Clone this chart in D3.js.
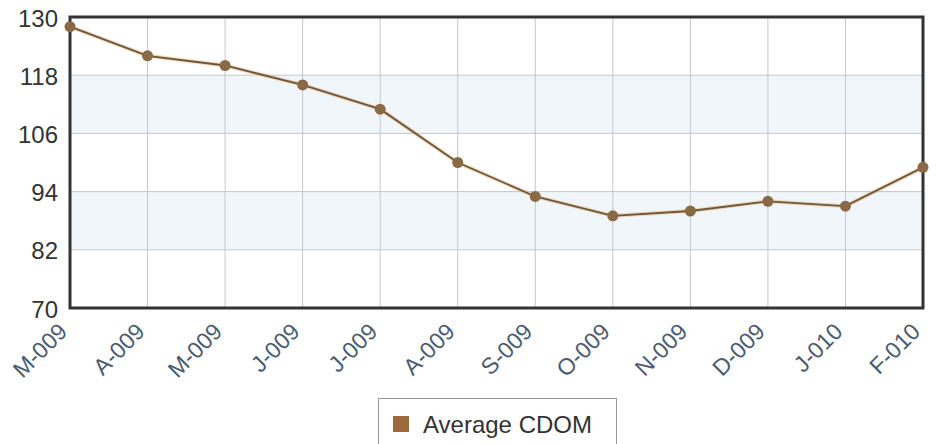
<!DOCTYPE html>
<html><head><meta charset="utf-8">
<script src="https://cdn.jsdelivr.net/npm/d3@7"></script>
<style>body{margin:0;background:#fff;}svg{display:block;}</style>
</head><body>
<svg id="c" width="938" height="444"></svg>
<script>
const categories = ["M-009","A-009","M-009","J-009","J-009","A-009","S-009","O-009","N-009","D-009","J-010","F-010"];
const values = [128,122,120,116,111,100,93,89,90,92,91,99];
const yTicks = [70,82,94,106,118,130];
const seriesName = "Average CDOM";

const svg = d3.select("#c");
const L=70,R=923,T=17,B=308;
const FONT = "Arial, 'Liberation Sans', sans-serif";
const x = d3.scalePoint().domain(d3.range(categories.length)).range([L,R]);
const y = d3.scaleLinear().domain([70,130]).range([B,T]);

// bands
for (let i=0;i<yTicks.length-1;i++){
  if (i===1||i===3){
    svg.append("rect").attr("x",L).attr("width",R-L)
      .attr("y",y(yTicks[i+1])).attr("height",y(yTicks[i])-y(yTicks[i+1]))
      .attr("fill","#f1f6fb");
  }
}
// grid
svg.append("g").selectAll("line").data(yTicks).join("line")
  .attr("x1",L).attr("x2",R).attr("y1",d=>y(d)).attr("y2",d=>y(d))
  .attr("stroke","#c4c8cc").attr("stroke-width",1);
svg.append("g").selectAll("line").data(d3.range(categories.length)).join("line")
  .attr("x1",d=>x(d)).attr("x2",d=>x(d)).attr("y1",T).attr("y2",B)
  .attr("stroke","#c4c8cc").attr("stroke-width",1);

// frame
svg.append("rect").attr("x",L).attr("y",T).attr("width",R-L).attr("height",B-T)
  .attr("fill","none").attr("stroke","#333").attr("stroke-width",3);

// y axis labels
const yAxis = d3.axisLeft(y).tickValues(yTicks).tickSize(0).tickPadding(12);
const gy = svg.append("g").attr("transform",`translate(${L},0)`).call(yAxis);
gy.select(".domain").remove();
gy.selectAll("text").attr("font-family",FONT)
  .attr("font-size",24).attr("fill","#333").attr("dy","0.38em");

// x axis labels
const xAxis = d3.axisBottom(x).tickFormat(i=>categories[i]).tickSize(0).tickPadding(0);
const gx = svg.append("g").attr("transform",`translate(0,${B})`).call(xAxis);
gx.select(".domain").remove();
gx.selectAll("text").attr("font-family",FONT)
  .attr("font-size",23).attr("fill","#4a5b70")
  .attr("text-anchor","end").attr("dy","0").attr("y",0)
  .attr("transform","translate(-2,25) rotate(-45)");

// line
const line = d3.line().x((d,i)=>x(i)).y(d=>y(d));
svg.append("path").datum(values).attr("d",line)
  .attr("fill","none").attr("stroke","#e0aa70").attr("stroke-width",4).attr("opacity",0.45);
svg.append("path").datum(values).attr("d",line)
  .attr("fill","none").attr("stroke","#6e5638").attr("stroke-width",1.8);
svg.append("g").selectAll("circle").data(values).join("circle")
  .attr("cx",(d,i)=>x(i)).attr("cy",d=>y(d)).attr("r",5.5)
  .attr("fill","#8a6a44");

// legend
const lg = svg.append("g");
lg.append("rect").attr("x",378.5).attr("y",398.5).attr("width",238).attr("height",50)
  .attr("fill","#fff").attr("stroke","#999");
lg.append("rect").attr("x",393).attr("y",416).attr("width",16).attr("height",16).attr("fill","#9c6a3c");
lg.append("text").attr("x",423).attr("y",433).text(seriesName)
  .attr("font-family",FONT).attr("font-size",24).attr("fill","#333");
</script>
</body></html>
